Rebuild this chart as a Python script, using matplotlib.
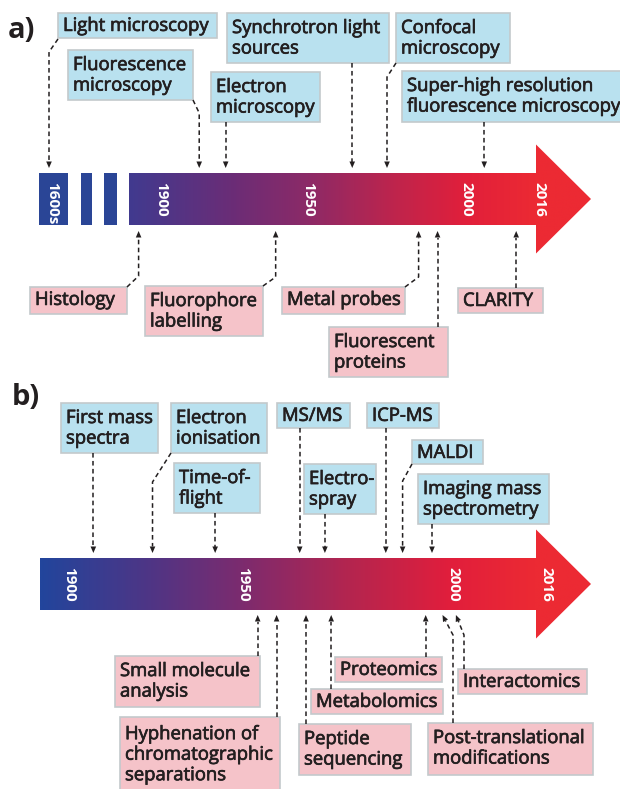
import matplotlib.pyplot as plt
import numpy as np
from matplotlib.patches import Rectangle, Polygon
from matplotlib.colors import LinearSegmentedColormap
import matplotlib.patheffects as pe

plt.rcParams['font.family'] = ['Open Sans', 'DejaVu Sans']

# ---- data: panel a (imaging) ----
a_ticks = [1900, 1950, 2000, 2016]
a_top_labels = ['Light microscopy', 'Fluorescence\nmicroscopy', 'Electron\nmicroscopy',
                'Synchrotron light\nsources', 'Confocal\nmicroscopy',
                'Super-high resolution\nfluorescence microscopy']
a_top_years = [1600, 1913, 1922, 1964, 1975, 2004]
a_bot_labels = ['Histology', 'Fluorophore\nlabelling', 'Metal probes',
                'Fluorescent\nproteins', 'CLARITY']
a_bot_years = [1840, 1939, 1985, 1991, 2011]

# ---- data: panel b (mass spectrometry) ----
b_ticks = [1900, 1950, 2000, 2016]
b_top_labels = ['First mass\nspectra', 'Electron\nionisation', 'Time-of-\nflight', 'MS/MS',
                'Electro-\nspray', 'ICP-MS', 'MALDI', 'Imaging mass\nspectrometry']
b_top_years = [1907, 1924, 1942, 1963.5, 1969.5, 1984, 1988, 1995]
b_bot_labels = ['Small molecule\nanalysis', 'Hyphenation of\nchromatographic\nseparations',
                'Peptide\nsequencing', 'Metabolomics', 'Proteomics',
                'Post-translational\nmodifications', 'Interactomics']
b_bot_years = [1953.5, 1958, 1965, 1971, 1993.5, 1997.5, 2000.5]

# ---- layout (pixel coords of the 620x789 canvas) ----
a_knots = ([1600, 1900, 1950, 2000, 2016], [49, 161, 308, 466, 539])
b_knots = ([1900, 1950, 2000, 2016], [69, 243, 453, 546])

# box (x0, y0, w, h), path points before the tip (None x -> event x)
a_top_layout = [((58, 13, 159, 25), [(58, 39), (None, 52)]),
                ((68, 50, 125, 50), [(193, 100), (None, 113)]),
                ((211, 72, 109, 50), [(None, 122)]),
                ((227, 13, 162, 50), [(None, 63)]),
                ((396, 13, 114, 50), [(396, 63), (None, 77)]),
                ((402, 71, 240, 51), [(None, 122)])]
a_bot_layout = [((30, 287, 97, 27), [(127, 287), (None, 276)]),
                ((145, 286, 118, 50), [(263, 286), (None, 277)]),
                ((282, 287, 123, 27), [(405, 287), (None, 277)]),
                ((329, 327, 119, 50), [(None, 327)]),
                ((458, 288, 85, 25), [(None, 288)])]
b_top_layout = [((61, 403, 97, 50), [(None, 453)]),
                ((171, 403, 96, 50), [(171, 453), (None, 482)]),
                ((174, 463, 86, 50), [(None, 513)]),
                ((277, 403, 73, 25), [(None, 428)]),
                ((304, 464, 72, 50), [(None, 514)]),
                ((367, 403, 72, 25), [(None, 428)]),
                ((412, 440, 71, 24), [(412, 464), (None, 481)]),
                ((418, 474, 131, 50), [(None, 524)])]
b_bot_layout = [((115, 656, 145, 51), [(None, 656)]),
                ((120, 717, 160, 80), [(None, 717)]),
                ((299, 724, 112, 51), [(None, 724)]),
                ((311, 689, 132, 25), [(None, 689)]),
                ((335, 657, 107, 25), [(None, 657)]),
                ((428, 723, 165, 52), [(453, 723), (453, 635)]),
                ((458, 669, 129, 25), [(464, 669), (464, 635)])]

BLUE_BOX = '#b9e1ef'
PINK_BOX = '#f5c3c9'
EDGE = '#c3c9cc'
INK = '#231f20'
FS = 13.3

fig = plt.figure(figsize=(6.2, 7.89), dpi=100)
ax = fig.add_axes([0, 0, 1, 1])


def draw_bar(x0, yc, stops):
    verts = [(x0, yc - 26), (536, yc - 26), (536, yc - 54.5), (591, yc),
             (536, yc + 54.5), (536, yc + 26), (x0, yc + 26)]
    poly = Polygon(verts, closed=True, fc='none', ec='none')
    ax.add_patch(poly)
    pos = [(p - x0) / (591 - x0) for p, c in stops]
    cmap = LinearSegmentedColormap.from_list('g', list(zip(pos, [c for p, c in stops])))
    grad = np.linspace(0, 1, 500)[None, :]
    im = ax.imshow(grad, cmap=cmap, extent=[x0, 591, yc + 56, yc - 56],
                   aspect='auto', interpolation='bilinear')
    im.set_clip_path(poly)


def dashed_arrow(pts):
    pts = np.array(pts, float)
    tip, prev = pts[-1], pts[-2]
    d = tip - prev
    d = d / np.hypot(*d)
    n = np.array([-d[1], d[0]])
    L, W = 6.5, 2.8
    base = tip - d * L
    line = pts.copy()
    line[-1] = base
    ax.plot(line[:, 0], line[:, 1], color=INK, lw=1.1, ls=(0, (3, 2.2)),
            solid_capstyle='butt')
    ax.add_patch(Polygon([tip, base + n * W, base - n * W], closed=True, fc=INK, ec='none'))


def events(labels, years, layout, knots, tip_y, fc):
    for lab, yr, (box, path) in zip(labels, years, layout):
        ex = np.interp(yr, *knots)
        x0, y0, w, h = box
        ax.add_patch(Rectangle((x0, y0), w, h, fc=fc, ec=EDGE, lw=1.2, zorder=2))
        nl = lab.count('\n') + 1
        ax.text(x0 + 5, y0 + 12.4 * nl + 0.5, lab, ha='left', va='center',
                fontsize=FS, color=INK, linespacing=1.18, zorder=3,
                path_effects=[pe.withStroke(linewidth=0.5, foreground=INK)])
        pts = [(ex if px is None else px, py) for px, py in path] + [(ex, tip_y)]
        dashed_arrow(pts)


def year_label(x, y, s):
    ax.text(x, y, s, rotation=-90, color='white', fontsize=11, fontweight='bold',
            ha='center', va='center')


# panel a
ax.text(8, 30, 'a)', fontsize=21, fontweight='bold', color=INK, va='center')
for bx, bw in [(39, 29), (81, 11), (104, 13)]:
    ax.add_patch(Rectangle((bx, 173), bw, 52, fc='#2a4596', ec='none'))
draw_bar(129, 199, [(129, '#413a8f'), (230, '#6a2d77'), (308, '#8c2a67'),
                    (400, '#c1244b'), (466, '#e11f3b'), (536, '#ec2a33'), (591, '#ec2a33')])
year_label(52, 203, '1600s')
for t, x in zip(a_ticks, np.interp(a_ticks, *a_knots)):
    year_label(x, 199, str(t))
events(a_top_labels, a_top_years, a_top_layout, a_knots, 168, BLUE_BOX)
events(a_bot_labels, a_bot_years, a_bot_layout, a_knots, 231, PINK_BOX)

# panel b
ax.text(12, 397, 'b)', fontsize=21, fontweight='bold', color=INK, va='center')
draw_bar(40, 584, [(40, '#22459c'), (150, '#4f3585'), (243, '#7d2b6e'),
                   (350, '#b4254f'), (451, '#e11e3c'), (536, '#ec2a33'), (591, '#ec2a33')])
for t, x in zip(b_ticks, np.interp(b_ticks, *b_knots)):
    year_label(x, 584, str(t))
events(b_top_labels, b_top_years, b_top_layout, b_knots, 553, BLUE_BOX)
events(b_bot_labels, b_bot_years, b_bot_layout, b_knots, 615, PINK_BOX)

ax.set_xlim(0, 620)
ax.set_ylim(789, 0)
ax.axis('off')
fig.savefig('out.png', dpi=100, facecolor='white')
